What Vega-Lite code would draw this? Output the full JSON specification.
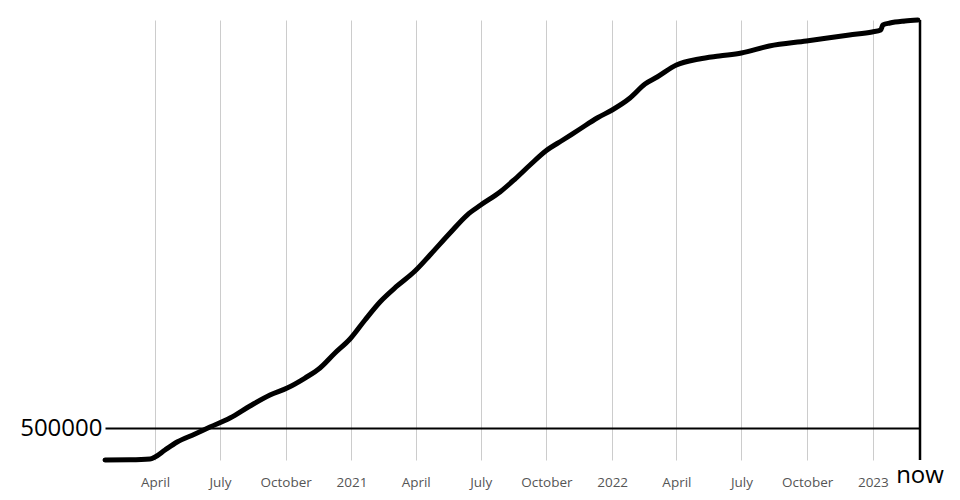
{
  "$schema": "https://vega.github.io/schema/vega-lite/v6.json",
  "width": 815,
  "height": 440,
  "autosize": {"type": "none"},
  "padding": {"left": 105, "top": 20, "right": 40, "bottom": 40},
  "background": "white",
  "config": {"view": {"stroke": null}, "font": "Open Sans"},
  "layer": [
    {
      "data": {"values": [
        {"date": "2020-01-22", "v": 0},
        {"date": "2020-02-26", "v": 3000},
        {"date": "2020-03-25", "v": 15625},
        {"date": "2020-04-01", "v": 47000},
        {"date": "2020-04-15", "v": 156000},
        {"date": "2020-05-02", "v": 281000},
        {"date": "2020-05-27", "v": 406000},
        {"date": "2020-06-17", "v": 516000},
        {"date": "2020-07-15", "v": 656000},
        {"date": "2020-08-12", "v": 844000},
        {"date": "2020-09-09", "v": 1016000},
        {"date": "2020-10-03", "v": 1125000},
        {"date": "2020-10-28", "v": 1281000},
        {"date": "2020-11-18", "v": 1437500},
        {"date": "2020-12-09", "v": 1672000},
        {"date": "2020-12-30", "v": 1890000},
        {"date": "2021-01-20", "v": 2187500},
        {"date": "2021-02-10", "v": 2469000},
        {"date": "2021-03-06", "v": 2719000},
        {"date": "2021-03-31", "v": 2953000},
        {"date": "2021-04-21", "v": 3203000},
        {"date": "2021-05-19", "v": 3547000},
        {"date": "2021-06-12", "v": 3828000},
        {"date": "2021-07-01", "v": 3984000},
        {"date": "2021-07-28", "v": 4187500},
        {"date": "2021-08-18", "v": 4390000},
        {"date": "2021-09-08", "v": 4609000},
        {"date": "2021-09-30", "v": 4828000},
        {"date": "2021-10-24", "v": 5000000},
        {"date": "2021-11-17", "v": 5172000},
        {"date": "2021-12-11", "v": 5344000},
        {"date": "2022-01-01", "v": 5469000},
        {"date": "2022-01-26", "v": 5656000},
        {"date": "2022-02-16", "v": 5875000},
        {"date": "2022-03-05", "v": 5984000},
        {"date": "2022-04-01", "v": 6172000},
        {"date": "2022-05-03", "v": 6266000},
        {"date": "2022-05-31", "v": 6312500},
        {"date": "2022-07-01", "v": 6359000},
        {"date": "2022-08-09", "v": 6469000},
        {"date": "2022-09-30", "v": 6547000},
        {"date": "2022-11-29", "v": 6641000},
        {"date": "2022-12-31", "v": 6687500},
        {"date": "2023-01-12", "v": 6719000},
        {"date": "2023-01-15", "v": 6797000},
        {"date": "2023-01-25", "v": 6828000},
        {"date": "2023-02-15", "v": 6859000},
        {"date": "2023-03-05", "v": 6875000}
      ]},
      "mark": {"type": "line", "color": "black", "strokeWidth": 5, "interpolate": "monotone", "strokeCap": "round", "strokeJoin": "round"},
      "encoding": {
        "x": {
          "field": "date", "type": "temporal",
          "scale": {"domain": [{"year": 2020, "month": 1, "date": 22}, {"year": 2023, "month": 3, "date": 8}]},
          "axis": {
            "title": null, "domain": false, "ticks": false,
            "tickCount": {"interval": "month", "step": 3},
            "grid": true, "gridColor": "#cccccc", "gridWidth": 1,
            "labelFont": "Open Sans", "labelFontSize": 13.5, "labelColor": "#555555",
            "labelPadding": 15
          }
        },
        "y": {
          "field": "v", "type": "quantitative",
          "scale": {"domain": [0, 6875000], "nice": false, "zero": true},
          "axis": {
            "title": null, "domain": false, "ticks": false,
            "values": [500000], "format": "d",
            "grid": true, "gridColor": "black", "gridWidth": 2,
            "labelFont": "Open Sans", "labelFontSize": 24, "labelColor": "black",
            "labelPadding": 3
          }
        }
      }
    },
    {
      "data": {"values": [{"label": "now"}]},
      "mark": {"type": "rule", "color": "black", "strokeWidth": 2.5},
      "encoding": {"x": {"datum": {"year": 2023, "month": 3, "date": 8}, "type": "temporal"}}
    },
    {
      "data": {"values": [{"label": "now"}]},
      "mark": {"type": "text", "font": "Open Sans", "fontSize": 24, "color": "black", "baseline": "middle", "align": "center", "dy": 16},
      "encoding": {
        "text": {"field": "label"},
        "x": {"datum": {"year": 2023, "month": 3, "date": 8}, "type": "temporal"},
        "y": {"datum": 0, "type": "quantitative"}
      }
    }
  ]
}
